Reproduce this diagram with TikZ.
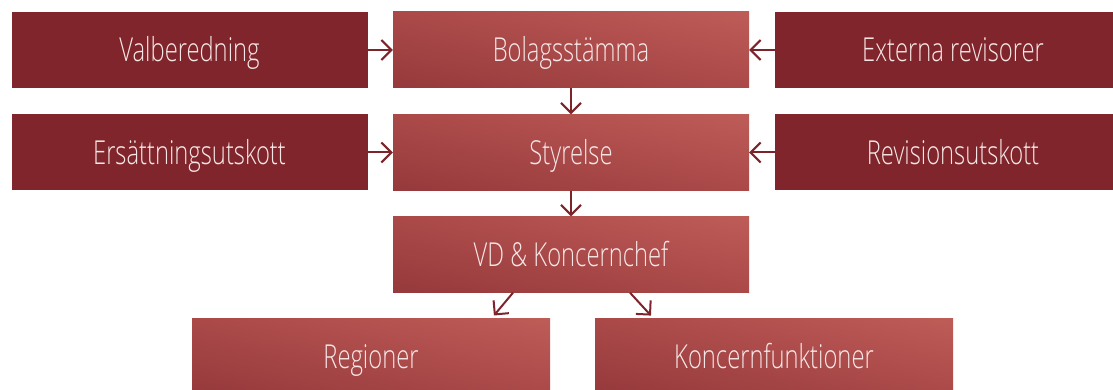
\documentclass[tikz,border=0pt]{standalone}
\usepackage{fontspec}
\setmainfont{Open Sans}[UprightFont={* Light},FakeStretch=0.72]
\usepackage{tikz}
\usetikzlibrary{arrows.meta}
\usetikzlibrary{shadings}

\definecolor{boxdark}{RGB}{128,37,43}
\definecolor{shadelow}{RGB}{150,57,60}
\definecolor{shademid}{RGB}{170,73,72}
\definecolor{shadehigh}{RGB}{190,92,88}
\definecolor{boxtext}{RGB}{246,232,232}
\definecolor{arrowred}{RGB}{125,35,42}

\begin{document}
\begin{tikzpicture}[x=1pt,y=-1pt,
  side box/.style={fill=boxdark,minimum width=356pt,minimum height=76pt,inner sep=0pt,text height=24pt,text depth=0pt,text=boxtext,font=\fontsize{33}{40}\selectfont},
  main box/.style={shade,lower left=shadelow,upper right=shadehigh,upper left=shademid,lower right=shademid,minimum width=356pt,minimum height=76pt,inner sep=0pt,text height=24pt,text depth=0pt,text=boxtext,font=\fontsize{33}{40}\selectfont},
  link/.style={draw=arrowred,line width=2pt,-{Straight Barb[length=10pt,width=20pt,line width=2pt]}}]
  \useasboundingbox[clip] (0,0) rectangle (1113,390);

  %top row
  \node[side box] (val) at (189.5,50) {Valberedning};
  \node[main box] (bol) at (571,50) {Bolagsstämma};
  \node[side box] (ext) at (953,50) {Externa revisorer};

  %middle row
  \node[side box] (ers) at (189.5,152.5) {Ersättningsutskott};
  \node[main box] (sty) at (571,152.5) {Styrelse};
  \node[side box] (rev) at (953,152.5) {Revisionsutskott};

  %ceo
  \node[main box] (vd) at (571,254.5) {VD \& Koncernchef};

  %bottom row
  \node[main box,minimum width=358pt] (reg) at (371,356) {Regioner};
  \node[main box,minimum width=358pt] (kon) at (774,356) {Koncernfunktioner};

  %arrows
  \draw[link] (val) -- (bol);
  \draw[link] (ext) -- (bol);
  \draw[link] (ers) -- (sty);
  \draw[link] (rev) -- (sty);
  \draw[link] (bol) -- (sty);
  \draw[link] (sty) -- (vd);
  \draw[link,shorten >=3pt] ([xshift=-58pt]vd.south) -- ([xshift=121pt]reg.north);
  \draw[link,shorten >=3pt] ([xshift=59pt]vd.south) -- ([xshift=-121pt]kon.north);
\end{tikzpicture}
\end{document}
